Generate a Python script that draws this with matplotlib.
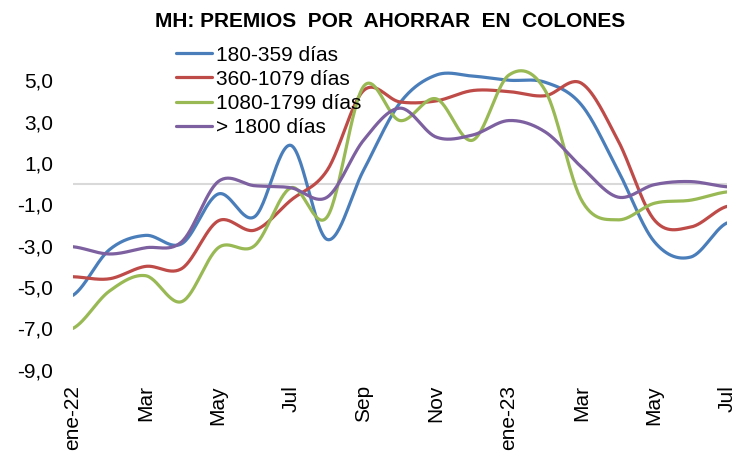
import numpy as np
import matplotlib
matplotlib.use("Agg")
import matplotlib.pyplot as plt

plt.rcParams['font.family'] = ['Liberation Sans', 'DejaVu Sans']

# premios por plazo, ene-22 a jul-23
meses = ['ene-22', 'Feb', 'Mar', 'Abr', 'May', 'Jun', 'Jul', 'Ago', 'Sep', 'Oct',
         'Nov', 'Dic', 'ene-23', 'Feb', 'Mar', 'Abr', 'May', 'Jun', 'Jul']
d180_359 = [-5.4, -3.2, -2.5, -2.9, -0.5, -1.6, 1.85, -2.7, 0.65, 3.9,
            5.25, 5.2, 5.0, 4.9, 3.8, 0.65, -2.8, -3.55, -1.9]
d360_1079 = [-4.5, -4.6, -4.0, -4.1, -1.8, -2.25, -0.8, 0.65, 4.5, 3.95,
             4.0, 4.5, 4.45, 4.25, 4.85, 2.1, -1.75, -2.1, -1.1]
d1080_1799 = [-7.0, -5.2, -4.45, -5.7, -3.1, -3.0, -0.2, -1.6, 4.7, 3.05,
              4.1, 2.1, 5.25, 4.5, -0.8, -1.75, -0.95, -0.8, -0.4]
d1800 = [-3.05, -3.4, -3.1, -2.8, 0.1, -0.1, -0.2, -0.65, 2.1, 3.65,
         2.25, 2.35, 3.05, 2.5, 0.8, -0.65, -0.05, 0.1, -0.15]

series = [('180-359 días', d180_359, '#4A7EBB'),
          ('360-1079 días', d360_1079, '#BE4B48'),
          ('1080-1799 días', d1080_1799, '#98B954'),
          ('> 1800 días', d1800, '#7D60A0')]


def suavizar(y, n=30):
    # curva tipo Excel (Bezier con tangentes de Catmull-Rom)
    y = np.asarray(y, dtype=float)
    x = np.arange(len(y), dtype=float)
    p = np.concatenate([[y[0]], y, [y[-1]]])
    xs, ys = [], []
    t = np.linspace(0, 1, n, endpoint=False)
    for i in range(len(y) - 1):
        p0, p1, p2, p3 = p[i], p[i + 1], p[i + 2], p[i + 3]
        c1 = p1 + (p2 - p0) / 6
        c2 = p2 - (p3 - p1) / 6
        b = ((1 - t) ** 3 * p1 + 3 * (1 - t) ** 2 * t * c1
             + 3 * (1 - t) * t ** 2 * c2 + t ** 3 * p2)
        xs.append(x[i] + t)
        ys.append(b)
    xs.append([x[-1]])
    ys.append([y[-1]])
    return np.concatenate(xs), np.concatenate(ys)


fig = plt.figure(figsize=(7.44, 4.51), dpi=100)
ax = fig.add_axes([0.098, 0.18, 0.879, 0.688])

ax.axhline(0, color='#D9D9D9', lw=1.5, zorder=1)
for nombre, vals, color in series:
    xs, ys = suavizar(vals)
    ax.plot(xs, ys, color=color, lw=2.3, label=nombre, zorder=3,
            solid_capstyle='round')

ax.set_xlim(0, len(meses) - 1)
ax.set_ylim(-9, 6)
ax.set_yticks(np.arange(-9, 6, 2))
ax.set_yticklabels([f'{v:.1f}'.replace('.', ',') for v in np.arange(-9, 6, 2)],
                   fontsize=15)
pos = np.arange(0, len(meses), 2)
ax.set_xticks(pos)
ax.set_xticklabels([meses[i] for i in pos], rotation=90, fontsize=15)
ax.tick_params(axis='y', length=0, pad=14)
ax.tick_params(axis='x', length=0, pad=11)
for s in ax.spines.values():
    s.set_visible(False)

fig.text(0.524, 0.953, 'MH: PREMIOS  POR  AHORRAR  EN  COLONES',
         ha='center', va='center', fontsize=15, fontweight='bold')

ax.legend(loc='upper left', bbox_to_anchor=(0.236, 0.899),
          bbox_transform=fig.transFigure, frameon=False,
          fontsize=15, handlelength=1.75, handletextpad=0.2,
          labelspacing=0.25, borderpad=0, borderaxespad=0)

fig.savefig('out.png', dpi=100)
